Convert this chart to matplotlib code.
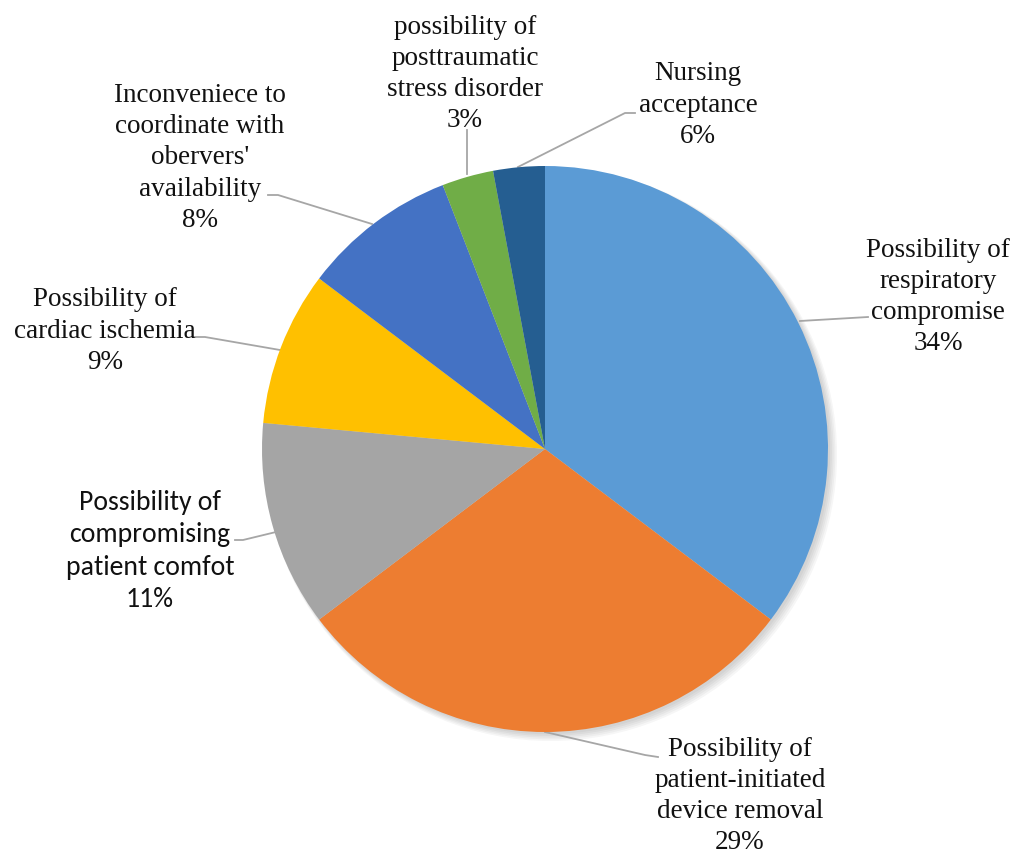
import matplotlib
matplotlib.use("Agg")
import matplotlib.pyplot as plt
from matplotlib.patches import Circle
from matplotlib import font_manager as fm

categories = [
    "Possibility of\nrespiratory\ncompromise",
    "Possibility of\npatient-initiated\ndevice removal",
    "Possibility of\ncompromising\npatient comfot",
    "Possibility of\ncardiac ischemia",
    "Inconveniece to\ncoordinate with\nobervers'\navailability",
    "possibility of\nposttraumatic\nstress disorder",
    "Nursing\nacceptance",
]
counts = [12, 10, 4, 3, 3, 1, 1]
pct_labels = ["34%", "29%", "11%", "9%", "8%", "3%", "6%"]
colors = ["#5B9BD5", "#ED7D31", "#A5A5A5", "#FFC000", "#4472C4", "#70AD47", "#255E91"]

names = {f.name for f in fm.fontManager.ttflist}


def pick(cands, default):
    for c in cands:
        if c in names:
            return c
    return default


serif_name = pick(["Liberation Serif", "TeX Gyre Termes", "FreeSerif"], "DejaVu Serif")
sans_name = pick(["Carlito", "Lato"], "DejaVu Sans")

W, H = 1014, 854
fig = plt.figure(figsize=(W / 100, H / 100), dpi=100)
cx, cy, R = 545, 450, 283
ax = fig.add_axes([(cx - R) / W, (H - cy - R) / H, 2 * R / W, 2 * R / H])

# soft shadow
for i in range(5):
    ax.add_patch(Circle((0.008 + 0.003 * i, -0.008 - 0.003 * i), 1.0 + 0.003 * i,
                        color="black", alpha=0.035, lw=0, zorder=0, clip_on=False))

wedges, _ = ax.pie(counts, colors=colors, startangle=90, counterclock=False, radius=1.0,
                   wedgeprops=dict(linewidth=0, zorder=2))
for w in wedges:
    w.set_clip_on(False)
ax.set_xlim(-1, 1)
ax.set_ylim(-1, 1)
ax.set_aspect("equal")
ax.axis("off")


def px(x, y):
    return ((x - cx) / R, (cy - y) / R)


layout = [
    (938, 297, "serif"),
    (740, 796, "serif"),
    (150, 551, "sans"),
    (105, 331, "serif"),
    (200, 158, "serif"),
    (465, 74, "serif"),
    (698, 105, "serif"),
]
leaders = [
    [(868, 318), (800, 322)],
    [(658, 758), (645, 756), (545, 733)],
    [(235, 541), (243, 541), (276, 533)],
    [(193, 338), (205, 338), (280, 351)],
    [(268, 196), (278, 196), (372, 225)],
    [(467, 131), (467, 175)],
    [(635, 114), (625, 114), (518, 168)],
]

for cat, pct, (x, y, fam), pts in zip(categories, pct_labels, layout, leaders):
    if fam == "serif":
        kw = dict(family=serif_name, fontsize=19.5, linespacing=1.32)
    else:
        kw = dict(family=sans_name, fontsize=20, linespacing=1.38)
    fig.text(x / W, 1 - y / H, cat + "\n" + pct, ha="center", va="center",
             multialignment="center", color="#111111", **kw)
    xs, ys = zip(*[px(a, b) for a, b in pts])
    ax.plot(xs, ys, color="#A6A6A6", lw=1.3, zorder=1, clip_on=False)

fig.savefig("out.png", dpi=100, facecolor="white")
